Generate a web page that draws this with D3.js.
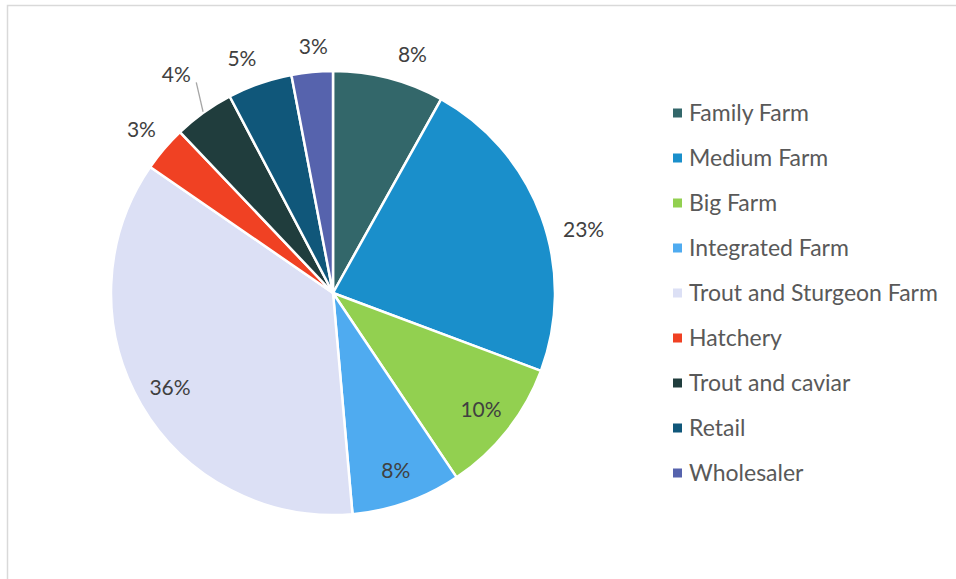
<!DOCTYPE html>
<html>
<head>
<meta charset="utf-8">
<script src="https://cdn.jsdelivr.net/npm/d3@7"></script>
<style>
  body { margin: 0; background: #fff; }
  svg { display: block; }
</style>
</head>
<body>
<div id="chart"></div>
<script>
// data (shares in %)
var categories = ["Family Farm", "Medium Farm", "Big Farm", "Integrated Farm", "Trout and Sturgeon Farm",
                  "Hatchery", "Trout and caviar", "Retail", "Wholesaler"];
var shares = [8.1, 22.6, 9.9, 8.0, 36.0, 3.3, 4.4, 4.7, 3.0];
var colors = ["#33676a", "#1a8fcb", "#92d050", "#4fabf0", "#dce0f5", "#f04123", "#203d3d", "#10577a", "#5663ad"];
var labelOutside = [true, true, false, false, false, true, true, true, true];

var width = 956, height = 579;
var cx = 333, cy = 293, radius = 222;

var svg = d3.select("#chart").append("svg")
    .attr("width", width)
    .attr("height", height);

// chart frame
svg.append("rect")
    .attr("x", 7.5).attr("y", 5.5)
    .attr("width", width + 10).attr("height", height + 10)
    .style("fill", "none")
    .style("stroke", "#d9d9d9")
    .style("stroke-width", 1.5);

var data = categories.map(function(c, i) {
    return {name: c, value: shares[i], color: colors[i], outside: labelOutside[i]};
});

var pie = d3.pie().sort(null).value(function(d) { return d.value; });
var arc = d3.arc().innerRadius(0).outerRadius(radius);
var arcs = pie(data);

var g = svg.append("g").attr("transform", "translate(" + cx + "," + cy + ")");

g.selectAll("path")
    .data(arcs)
    .enter()
    .append("path")
    .attr("d", arc)
    .style("fill", function(d) { return d.data.color; })
    .style("stroke", "#fff")
    .style("stroke-width", 2.5)
    .style("stroke-linejoin", "round");

// label radius per placement, small nudges like Excel's best fit
var nudge = {"Family Farm": [16, 6], "Medium Farm": [14, 23], "Retail": [-8, 4], "Wholesaler": [4, 5]};

function labelPos(d) {
    var a = (d.startAngle + d.endAngle) / 2;
    var r = d.data.outside ? radius + 30 : radius * 0.85;
    if (d.data.name === "Trout and caviar") r = radius + 47;
    var n = nudge[d.data.name] || [0, 0];
    return [Math.sin(a) * r + n[0], -Math.cos(a) * r + n[1]];
}

// leader line for the small 4% slice
arcs.filter(function(d) { return d.data.name === "Trout and caviar"; }).forEach(function(d) {
    var a = (d.startAngle + d.endAngle) / 2;
    var p = labelPos(d);
    g.append("line")
        .attr("x1", Math.sin(a) * (radius + 1))
        .attr("y1", -Math.cos(a) * (radius + 1))
        .attr("x2", p[0] + 20)
        .attr("y2", p[1] + 8)
        .style("stroke", "#a6a6a6")
        .style("stroke-width", 1.3);
});

g.selectAll("text.lbl")
    .data(arcs)
    .enter()
    .append("text")
    .attr("class", "lbl")
    .attr("x", function(d) { return labelPos(d)[0]; })
    .attr("y", function(d) { return labelPos(d)[1]; })
    .attr("dy", "0.35em")
    .style("text-anchor", "middle")
    .style("font-family", "Lato, 'Open Sans', sans-serif")
    .style("font-size", "21px")
    .style("fill", "#404040")
    .text(function(d) { return Math.round(d.data.value) + "%"; });

// legend
var legendY = d3.scalePoint().domain(categories).range([113, 473]);

var legend = svg.append("g").attr("class", "legend");

legend.selectAll("rect")
    .data(data)
    .enter()
    .append("rect")
    .attr("x", 673)
    .attr("y", function(d) { return legendY(d.name) - 4.5; })
    .attr("width", 9)
    .attr("height", 9)
    .style("fill", function(d) { return d.color; });

legend.selectAll("text")
    .data(data)
    .enter()
    .append("text")
    .attr("x", 689)
    .attr("y", function(d) { return legendY(d.name); })
    .attr("dy", "0.36em")
    .style("font-family", "Lato, 'Open Sans', sans-serif")
    .style("font-size", "23px")
    .style("fill", "#595959")
    .text(function(d) { return d.name; });
</script>
</body>
</html>
